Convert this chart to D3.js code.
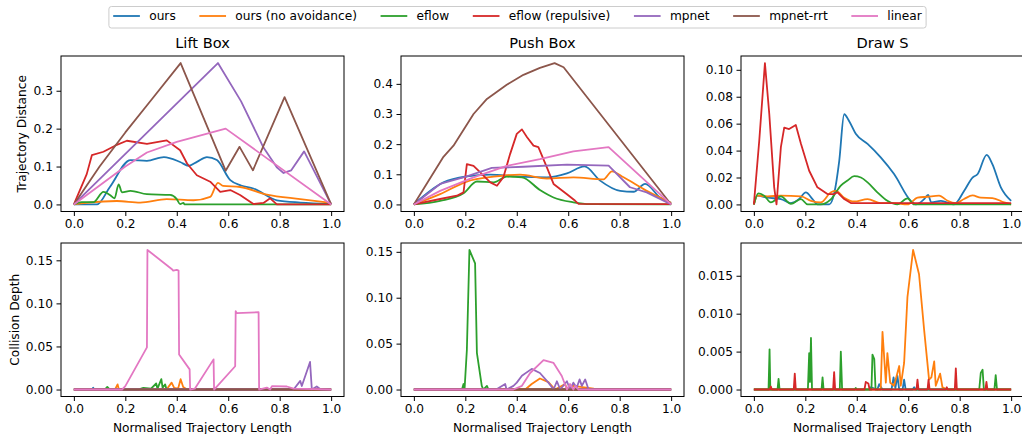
<!DOCTYPE html>
<html>
<head>
<meta charset="utf-8">
<script src="https://cdn.jsdelivr.net/npm/d3@7"></script>
<style>
body { margin: 0; background: #fff; }
text { font-family: "DejaVu Sans", sans-serif; fill: #000; }
</style>
</head>
<body>
<div id="chart"></div>
<script>
var svgWidth = 1022;
var svgHeight = 434;

var seriesNames = ["ours", "ours (no avoidance)", "eflow", "eflow (repulsive)", "mpnet", "mpnet-rrt", "linear"];
var seriesColors = ["#1f77b4", "#ff7f0e", "#2ca02c", "#d62728", "#9467bd", "#8c564b", "#e377c2"];
var panelTitles = ["Lift Box", "Push Box", "Draw S"];
var xTicks = [0, 0.2, 0.4, 0.6, 0.8, 1.0];

// trajectory distance, one list of [x, y] per series (order as seriesNames)
var liftDistance = [
    [[0,0],[0.09,0],[0.14,0.046],[0.22,0.117],[0.284,0.115],[0.35,0.125],[0.413,0.112],[0.446,0.102],[0.48,0.113],[0.517,0.125],[0.556,0.117],[0.608,0.064],[0.65,0.05],[0.698,0.042],[0.789,0.011],[0.88,0.005],[1,0.002]],
    [[0,0],[0.05,0.004],[0.167,0.009],[0.258,0.005],[0.361,0.014],[0.465,0.011],[0.53,0.02],[0.56,0.057],[0.58,0.049],[0.646,0.046],[0.75,0.026],[0.88,0.014],[1,0.004]],
    [[0,0],[0.03,0.006],[0.076,0.006],[0.115,0.033],[0.14,0.025],[0.158,0.016],[0.174,0.053],[0.187,0.032],[0.22,0.036],[0.284,0.027],[0.374,0.025],[0.4,0.014],[0.413,0.001],[0.426,0.004],[0.43,0],[1,0]],
    [[0,0],[0.05,0.08],[0.07,0.13],[0.115,0.139],[0.16,0.155],[0.206,0.168],[0.284,0.16],[0.361,0.169],[0.413,0.143],[0.44,0.108],[0.478,0.077],[0.53,0.06],[0.569,0.033],[0.608,0.038],[0.646,0.025],[0.698,0.001],[0.737,0.004],[0.763,0.016],[0.789,0],[1,0]],
    [[0,0],[0.56,0.373],[0.65,0.272],[0.737,0.15],[0.79,0.097],[0.815,0.083],[0.845,0.09],[0.895,0.14],[1,0]],
    [[0,0],[0.1,0.1],[0.2,0.19],[0.3,0.275],[0.415,0.373],[0.59,0.089],[0.644,0.152],[0.696,0.09],[0.819,0.283],[1,0]],
    [[0,0],[0.1,0.05],[0.2,0.1],[0.284,0.137],[0.4,0.165],[0.59,0.2],[1,0]]
];
var pushDistance = [
    [[0,0],[0.115,0.073],[0.206,0.093],[0.297,0.099],[0.4,0.093],[0.517,0.09],[0.595,0.103],[0.663,0.126],[0.724,0.079],[0.802,0.045],[0.854,0.042],[0.899,0.068],[0.957,0.023],[1,0.005]],
    [[0,0],[0.102,0.034],[0.206,0.076],[0.31,0.092],[0.413,0.099],[0.517,0.086],[0.62,0.09],[0.737,0.083],[0.77,0.11],[0.815,0.09],[0.905,0.045],[1,0.005]],
    [[0,0],[0.102,0.012],[0.193,0.037],[0.245,0.076],[0.31,0.073],[0.361,0.092],[0.42,0.09],[0.49,0.048],[0.543,0.023],[0.62,0.007],[0.685,0.001],[1,0]],
    [[0,0],[0.102,0.018],[0.167,0.029],[0.193,0.04],[0.206,0.134],[0.232,0.128],[0.258,0.106],[0.297,0.073],[0.323,0.062],[0.348,0.09],[0.374,0.167],[0.4,0.234],[0.42,0.249],[0.44,0.223],[0.465,0.195],[0.484,0.19],[0.517,0.123],[0.543,0.068],[0.595,0.034],[0.627,0.012],[0.64,0.002],[1,0.001]],
    [[0,0],[0.102,0.068],[0.206,0.093],[0.303,0.121],[0.426,0.125],[0.595,0.132],[0.757,0.129],[0.84,0.057],[0.905,0.04],[1,0]],
    [[0,0],[0.115,0.158],[0.154,0.195],[0.232,0.3],[0.284,0.35],[0.361,0.397],[0.426,0.43],[0.49,0.453],[0.547,0.469],[0.582,0.455],[1,0]],
    [[0,0],[0.102,0.045],[0.232,0.09],[0.361,0.128],[0.49,0.15],[0.62,0.176],[0.757,0.19],[1,0]]
];
var drawDistance = [
    [[0,0],[0.014,0.0065],[0.053,0.005],[0.105,0.004],[0.144,0.001],[0.176,0.004],[0.202,0.009],[0.228,0.004],[0.247,0],[0.293,0],[0.312,0.008],[0.332,0.0326],[0.351,0.067],[0.37,0.062],[0.396,0.0525],[0.442,0.045],[0.493,0.035],[0.545,0.0226],[0.61,0.0027],[0.63,0],[0.662,0.004],[0.677,0.007],[0.69,0.0015],[0.727,0.0027],[0.778,0],[0.817,0.01],[0.85,0.02],[0.87,0.0226],[0.905,0.0368],[0.927,0.03],[0.96,0.0127],[1,0.0027]],
    [[0,0],[0.014,0.0065],[0.053,0.006],[0.105,0.0065],[0.183,0.006],[0.222,0.0027],[0.26,0.0015],[0.3,0.009],[0.319,0.01],[0.351,0.005],[0.39,0.0022],[0.442,0.004],[0.493,0.001],[0.545,0.001],[0.597,0],[0.636,0.005],[0.675,0.0057],[0.72,0.0065],[0.753,0.0027],[0.785,0.001],[0.817,0.004],[0.85,0.0067],[0.882,0.005],[0.927,0.0047],[0.973,0.0015],[1,0]],
    [[0,0],[0.017,0.0082],[0.04,0.0065],[0.066,0.0015],[0.105,0.006],[0.144,0.0005],[0.183,0.004],[0.209,0],[0.26,0],[0.3,0.004],[0.338,0.014],[0.364,0.0177],[0.39,0.021],[0.416,0.02],[0.442,0.0164],[0.48,0.009],[0.519,0.0027],[0.558,0],[0.597,0.0045],[0.623,0],[1,0]],
    [[0,0],[0.021,0.0475],[0.043,0.105],[0.06,0.067],[0.079,0.0127],[0.088,0],[0.096,0.02],[0.105,0.0425],[0.118,0.057],[0.137,0.056],[0.163,0.059],[0.183,0.045],[0.215,0.025],[0.247,0.0127],[0.286,0.0077],[0.312,0.0077],[0.325,0.009],[0.351,0.004],[0.377,0.001],[1,0.001]]
];

// collision depth, same layout
var liftCollision = [
    [[0,0],[0.07,0],[0.075,0.002],[0.08,0],[1,0]],
    [[0,0],[0.16,0],[0.17,0.006],[0.175,0],[0.36,0],[0.38,0.008],[0.39,0.002],[0.405,0.001],[0.415,0.012],[0.425,0.003],[0.44,0],[1,0]],
    [[0,0],[0.12,0],[0.13,0.003],[0.14,0],[0.25,0],[0.27,0.002],[0.3,0.001],[0.32,0.007],[0.325,0.001],[0.34,0.012],[0.345,0.002],[0.355,0.006],[0.36,0],[1,0]],
    [[0,0],[1,0]],
    [[0,0],[0.854,0],[0.88,0.01],[0.886,0.004],[0.918,0.032],[0.925,0],[0.944,0.0035],[0.96,0],[1,0]],
    [[0,0],[1,0]],
    [[0,0],[0.187,0],[0.2,0.004],[0.284,0.049],[0.286,0.162],[0.38,0.14],[0.386,0.138],[0.4,0.139],[0.407,0.138],[0.409,0.0407],[0.45,0.0234],[0.452,0],[0.47,0.001],[0.543,0.035],[0.545,0],[0.627,0.027],[0.629,0.091],[0.633,0.0886],[0.718,0.0898],[0.72,0],[0.75,0.0023],[0.763,0],[0.77,0.004],[0.828,0.0035],[0.854,0.001],[1,0]]
];
var pushCollision = [
    [[0,0],[1,0]],
    [[0,0],[0.433,0],[0.458,0.006],[0.49,0.012],[0.523,0.008],[0.549,0],[0.588,0.006],[0.595,0],[0.62,0.004],[0.698,0.001],[0.705,0],[1,0]],
    [[0,0],[0.187,0],[0.193,0.006],[0.197,0],[0.206,0.043],[0.216,0.152],[0.238,0.1375],[0.245,0.04],[0.264,0.004],[0.27,0],[0.284,0.004],[0.29,0],[1,0]],
    [[0,0],[1,0]],
    [[0,0],[0.32,0],[0.355,0.006],[0.36,0],[0.387,0.004],[0.4,0.0075],[0.42,0.015],[0.458,0.0225],[0.49,0.018],[0.523,0.0075],[0.543,0],[0.556,0.009],[0.569,0],[0.595,0.009],[0.607,0],[0.62,0.0075],[0.633,0.002],[0.644,0.011],[0.653,0.004],[0.666,0.011],[0.679,0],[1,0]],
    [[0,0],[1,0]],
    [[0,0],[0.387,0],[0.42,0.004],[0.452,0.018],[0.504,0.032],[0.543,0.029],[0.575,0.0147],[0.595,0],[0.607,0.006],[0.62,0],[0.627,0.004],[0.64,0],[1,0]]
];
var drawCollision = [
    [[0,0],[0.45,0],[0.455,0.0003],[0.48,0],[0.487,0.0007],[0.5,0],[0.535,0],[0.543,0.0016],[0.55,0.0002],[0.558,0.0018],[0.565,0],[0.578,0],[0.584,0.0013],[0.59,0],[0.617,0],[0.623,0.0003],[0.63,0],[1,0]],
    [[0,0],[0.493,0],[0.5,0.0076],[0.513,0.0009],[0.519,0.0048],[0.53,0.0009],[0.545,0.0005],[0.565,0.0031],[0.571,0.0005],[0.584,0.0035],[0.597,0.0122],[0.619,0.0184],[0.642,0.0152],[0.662,0.0078],[0.681,0.0013],[0.69,0.0016],[0.701,0.0037],[0.707,0.0005],[0.724,0.0021],[0.733,0.0003],[0.753,0],[1,0]],
    [[0,0],[0.057,0],[0.061,0.0053],[0.064,0],[0.092,0],[0.096,0.0014],[0.1,0],[0.21,0],[0.215,0.0048],[0.218,0.001],[0.222,0.0068],[0.226,0],[0.263,0],[0.267,0.0016],[0.271,0],[0.334,0],[0.338,0.005],[0.343,0],[0.392,0],[0.396,0.0002],[0.4,0],[0.457,0],[0.461,0.0046],[0.468,0.004],[0.473,0],[0.876,0],[0.882,0.0022],[0.889,0.0026],[0.894,0],[0.935,0],[0.94,0.0019],[0.945,0],[1,0]],
    [[0,0],[0.062,0],[0.066,0.0004],[0.07,0],[0.155,0],[0.159,0.0021],[0.163,0],[0.308,0],[0.312,0.0023],[0.316,0],[0.43,0],[0.435,0.001],[0.445,0.0008],[0.45,0],[0.632,0],[0.636,0.0013],[0.64,0],[0.675,0],[0.679,0.0013],[0.683,0],[0.746,0],[0.75,0.0003],[0.754,0],[0.781,0],[0.785,0.0028],[0.789,0],[0.9,0],[0.904,0.001],[0.908,0],[1,0]]
];

var distanceTicks = [[0, 0.1, 0.2, 0.3], [0, 0.1, 0.2, 0.3, 0.4], [0, 0.02, 0.04, 0.06, 0.08, 0.10]];
var collisionTicks = [[0, 0.05, 0.10, 0.15], [0, 0.05, 0.10, 0.15], [0, 0.005, 0.010, 0.015]];
var distanceFormats = [".1f", ".1f", ".2f"];
var collisionFormats = [".2f", ".2f", ".3f"];

var panelLeft = [61, 401, 741];
var panelWidth = 283;
var rows = [{ top: 56, bottom: 211.5 }, { top: 243, bottom: 396.5 }];

var svg = d3.select("#chart").append("svg")
    .attr("width", svgWidth)
    .attr("height", svgHeight);

function drawPanel(col, row, data, ticks, fmt) {
    var left = panelLeft[col];
    var top = rows[row].top, bottom = rows[row].bottom;

    var x = d3.scaleLinear().domain([-0.05, 1.05]).range([left, left + panelWidth]);
    var lo = d3.min(data, function (s) { return d3.min(s, function (p) { return p[1]; }); });
    var hi = d3.max(data, function (s) { return d3.max(s, function (p) { return p[1]; }); });
    var pad = (hi - lo) * 0.05;
    var y = d3.scaleLinear().domain([lo - pad, hi + pad]).range([bottom, top]);

    var clipId = "clip" + row + col;
    svg.append("clipPath").attr("id", clipId)
        .append("rect")
        .attr("x", left).attr("y", top)
        .attr("width", panelWidth).attr("height", bottom - top);

    var g = svg.append("g");
    var lines = g.append("g").attr("clip-path", "url(#" + clipId + ")");

    data.forEach(function (s, i) {
        var smooth = row === 0 && i < 3;
        var line = d3.line()
            .x(function (p) { return x(p[0]); })
            .y(function (p) { return y(p[1]); })
            .curve(smooth ? d3.curveMonotoneX : d3.curveLinear);
        lines.append("path")
            .datum(s)
            .attr("d", line)
            .attr("fill", "none")
            .attr("stroke", seriesColors[i])
            .attr("stroke-width", 1.8)
            .attr("stroke-linejoin", "round");
    });

    var xAxis = d3.axisBottom(x).tickValues(xTicks).tickFormat(d3.format(".1f"))
        .tickSizeOuter(0).tickSize(4.5).tickPadding(3.5);
    var yAxis = d3.axisLeft(y).tickValues(ticks).tickFormat(d3.format(fmt))
        .tickSizeOuter(0).tickSize(4.5).tickPadding(3.5);

    var gx = g.append("g").attr("transform", "translate(0," + bottom + ")").call(xAxis);
    var gy = g.append("g").attr("transform", "translate(" + left + ",0)").call(yAxis);
    [gx, gy].forEach(function (a) {
        a.select(".domain").remove();
        a.selectAll("line").attr("stroke", "#000").attr("stroke-width", 1);
        a.selectAll("text").style("font-size", "12.2px").attr("fill", "#000")
            .style("font-family", "DejaVu Sans");
    });

    g.append("rect")
        .attr("x", left).attr("y", top)
        .attr("width", panelWidth).attr("height", bottom - top)
        .attr("fill", "none")
        .attr("stroke", "#000")
        .attr("stroke-width", 1);

    if (row === 0) {
        g.append("text")
            .attr("x", left + panelWidth / 2)
            .attr("y", 48)
            .attr("text-anchor", "middle")
            .style("font-size", "14.6px")
            .text(panelTitles[col]);
    } else {
        g.append("text")
            .attr("x", left + panelWidth / 2)
            .attr("y", 431.5)
            .attr("text-anchor", "middle")
            .style("font-size", "12.2px")
            .text("Normalised Trajectory Length");
    }
}

drawPanel(0, 0, liftDistance, distanceTicks[0], distanceFormats[0]);
drawPanel(1, 0, pushDistance, distanceTicks[1], distanceFormats[1]);
drawPanel(2, 0, drawDistance, distanceTicks[2], distanceFormats[2]);
drawPanel(0, 1, liftCollision, collisionTicks[0], collisionFormats[0]);
drawPanel(1, 1, pushCollision, collisionTicks[1], collisionFormats[1]);
drawPanel(2, 1, drawCollision, collisionTicks[2], collisionFormats[2]);

// y-axis labels
svg.append("text")
    .attr("transform", "translate(26," + (rows[0].top + rows[0].bottom) / 2 + ") rotate(-90)")
    .attr("text-anchor", "middle")
    .style("font-size", "12.2px")
    .text("Trajectory Distance");
svg.append("text")
    .attr("transform", "translate(18.5," + (rows[1].top + rows[1].bottom) / 2 + ") rotate(-90)")
    .attr("text-anchor", "middle")
    .style("font-size", "12.2px")
    .text("Collision Depth");

// legend on top, one row
var legend = svg.append("g");
var legendBox = legend.append("rect")
    .attr("fill", "#fff")
    .attr("stroke", "#cccccc")
    .attr("stroke-width", 1)
    .attr("rx", 2.5);
var cursor = 0;
seriesNames.forEach(function (name, i) {
    legend.append("line")
        .attr("x1", cursor).attr("x2", cursor + 26.7)
        .attr("y1", 16).attr("y2", 16)
        .attr("stroke", seriesColors[i])
        .attr("stroke-width", 1.8);
    var t = legend.append("text")
        .attr("x", cursor + 36)
        .attr("y", 20.3)
        .style("font-size", "12.2px")
        .text(name);
    cursor += 36 + t.node().getComputedTextLength() + 23.6;
});
var legendWidth = cursor - 23.6;
var legendX = 517.5 - legendWidth / 2;
legend.attr("transform", "translate(" + legendX + ",0)");
legendBox.attr("x", -4.3).attr("y", 6.5)
    .attr("width", legendWidth + 8.6).attr("height", 21.5);
</script>
</body>
</html>
